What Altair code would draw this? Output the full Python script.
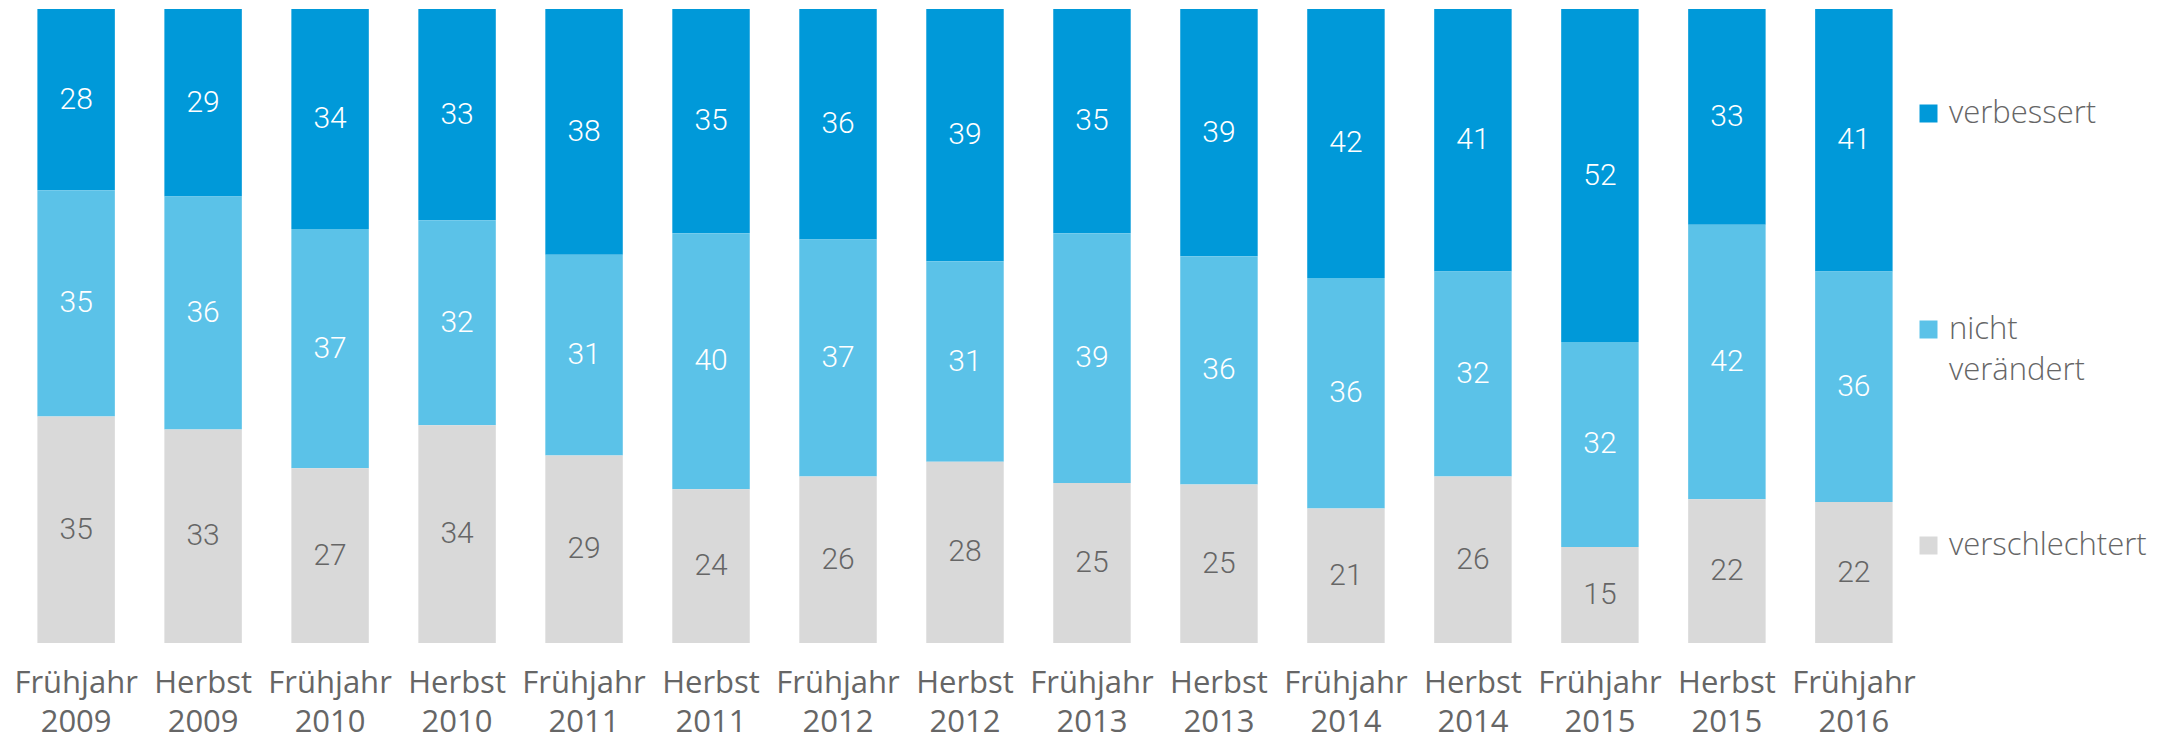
import altair as alt
import pandas as pd

periods = ["Frühjahr 2009", "Herbst 2009", "Frühjahr 2010", "Herbst 2010",
           "Frühjahr 2011", "Herbst 2011", "Frühjahr 2012", "Herbst 2012",
           "Frühjahr 2013", "Herbst 2013", "Frühjahr 2014", "Herbst 2014",
           "Frühjahr 2015", "Herbst 2015", "Frühjahr 2016"]
verbessert = [28, 29, 34, 33, 38, 35, 36, 39, 35, 39, 42, 41, 52, 33, 41]
nicht_veraendert = [35, 36, 37, 32, 31, 40, 37, 31, 39, 36, 36, 32, 32, 42, 36]
verschlechtert = [35, 33, 27, 34, 29, 24, 26, 28, 25, 25, 21, 26, 15, 22, 22]

categories = ["verbessert", "nicht verändert", "verschlechtert"]
colors = ["#0099D9", "#5BC2E8", "#D9D9D9"]
stack_order = {"verschlechtert": 0, "nicht verändert": 1, "verbessert": 2}

rows = []
for cat, vals in zip(categories, [verbessert, nicht_veraendert, verschlechtert]):
    for p, v in zip(periods, vals):
        rows.append({"period": p, "cat": cat, "value": v, "order": stack_order[cat]})
df = pd.DataFrame(rows)

base = alt.Chart(df).transform_stack(
    stack="value", groupby=["period"], as_=["y0", "y1"],
    offset="normalize", sort=[alt.SortField("order", order="ascending")]
).transform_calculate(mid="(datum.y0 + datum.y1) / 2")

x_enc = alt.X("period:N", sort=periods, title=None,
              scale=alt.Scale(paddingInner=0.39, paddingOuter=0.2),
              axis=alt.Axis(labelAngle=0, domain=False, ticks=False,
                            labelExpr="split(datum.label, ' ')",
                            labelFont="Open Sans", labelFontSize=31,
                            labelColor="#666666", labelPadding=25,
                            labelLineHeight=39, labelBaseline="top",
                            labelLimit=0))

bars = base.mark_bar().encode(
    x=x_enc,
    y=alt.Y("y0:Q", axis=None, scale=alt.Scale(domain=[0, 1], nice=False)),
    y2="y1:Q",
    color=alt.Color("cat:N", scale=alt.Scale(domain=categories, range=colors),
                    legend=alt.Legend(
                        title=None, orient="none", legendX=1901, legendY=89,
                        direction="vertical", symbolType="square",
                        symbolSize=324, symbolStrokeWidth=0,
                        labelFont="Open Sans", labelFontSize=31,
                        labelFontWeight=300, labelColor="#666666",
                        labelOffset=5, rowPadding=143, gridAlign="all",
                        labelLimit=0, padding=0,
                        labelExpr="datum.label == 'nicht verändert' ? ['nicht', 'verändert'] : datum.label")),
)

texts = base.mark_text(font="Roboto", fontSize=30, fontWeight=300,
                       baseline="middle", align="center").encode(
    x=alt.X("period:N", sort=periods),
    y=alt.Y("mid:Q"),
    text=alt.Text("value:Q"),
    color=alt.condition("datum.cat == 'verschlechtert'",
                        alt.value("#666666"), alt.value("#FFFFFF")),
)

chart = alt.layer(bars, texts).properties(
    width=1906, height=634,
    autosize=alt.AutoSizeParams(type="none"),
    padding={"left": 4, "top": 1, "right": 256, "bottom": 100},
).configure(
    style={"guide-label": {"lineHeight": 41}}
).configure_view(stroke=None)

chart.save("out.html", embed_options={"renderer": "svg", "actions": False})
